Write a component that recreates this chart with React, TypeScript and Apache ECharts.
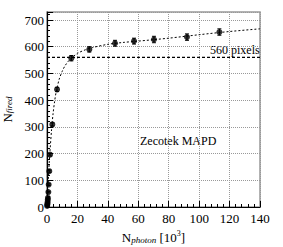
import React, { useEffect, useRef } from "react";
import * as echarts from "echarts";

const pointX = [0.1, 0.2, 0.3, 0.4, 0.5, 0.6, 0.9, 1.1, 1.5, 2.0, 3.5, 6.6, 16.0, 27.8, 44.7, 57.2, 70.3, 92.0, 113.3];
const pointY = [4, 8, 13, 19, 27, 34, 56, 84, 134, 196, 309, 440, 557, 590, 613, 621, 627, 636, 655];
const pointErr = [1, 1, 1, 2, 2, 2, 3, 3, 4, 5, 6, 8, 10, 10, 11, 11, 12, 12, 12];

const fitX = [0, 0.5, 1, 1.5, 2, 3, 4, 5, 6, 8, 10, 12, 15, 20, 25, 30, 40, 50, 60, 80, 100, 120, 140];
const fitY = [0, 62, 118, 168, 212, 290, 350, 395, 430, 478, 508, 530, 552, 575, 588, 597, 609, 616, 621, 632, 645, 657, 667];

const refLineX = [0, 140];
const refLineY = [560, 560];

const xTicks = { min: 0, max: 140, interval: 20 };
const yTicks = { min: 0, max: 730, interval: 100 };

const SERIF = "'Liberation Serif', 'DejaVu Serif', serif";

export default function App() {
  const ref = useRef<HTMLDivElement>(null);
  useEffect(() => {
    if (!ref.current) return;
    const chart = echarts.init(ref.current, undefined, { renderer: "svg" });
    const axisCommon = {
      axisLine: { show: true, onZero: false, lineStyle: { color: "#000", width: 1.2 } },
      axisTick: { show: true, inside: true, length: 6, lineStyle: { color: "#000" } },
      minorTick: { show: true, splitNumber: 5, length: 3, lineStyle: { color: "#000" } },
      splitLine: { show: true, lineStyle: { color: "#999", type: [1, 1] as any, width: 1 } },
    };
    chart.setOption({
      animation: false,
      backgroundColor: "#fff",
      grid: {
        left: 47, right: 23, top: 12, bottom: 40,
        show: true, borderColor: "#999", borderWidth: 1.5,
        containLabel: false, outerBoundsMode: "none",
      } as any,
      xAxis: {
        type: "value",
        ...xTicks,
        ...axisCommon,
        axisLabel: { color: "#000", fontFamily: SERIF, fontSize: 13, margin: 5 },
        name: "{n|N}{s|photon} {n|[10}{sup|3}{n|]}",
        nameLocation: "middle",
        nameGap: 22,
        nameTextStyle: {
          rich: {
            n: { fontFamily: SERIF, fontSize: 13, color: "#000" },
            s: { fontFamily: SERIF, fontSize: 9, fontStyle: "italic", color: "#000", verticalAlign: "bottom", padding: [6, 0, 0, 0] },
            sup: { fontFamily: SERIF, fontSize: 8, color: "#000", verticalAlign: "top", padding: [0, 0, 5, 0] },
          },
        },
      },
      yAxis: {
        type: "value",
        ...yTicks,
        ...axisCommon,
        axisLabel: {
          color: "#000",
          fontFamily: SERIF,
          fontSize: 13,
          margin: 3,
          formatter: (v: number) => (v % 100 === 0 ? String(v) : ""),
        },
        name: "{n|N}{s|fired}",
        nameLocation: "middle",
        nameGap: 32,
        nameTextStyle: {
          rich: {
            n: { fontFamily: SERIF, fontSize: 13, color: "#000" },
            s: { fontFamily: SERIF, fontSize: 9, fontStyle: "italic", color: "#000", verticalAlign: "bottom", padding: [4, 0, 0, 0] },
          },
        },
      },
      graphic: [
        { type: "text", left: 140, top: 135, style: { text: "Zecotek MAPD", font: `12px ${SERIF}`, fill: "#000" } },
        { type: "text", left: 210, top: 44, style: { text: "560 pixels", font: `12px ${SERIF}`, fill: "#000" } },
      ],
      series: [
        {
          type: "line",
          data: refLineX.map((x, i) => [x, refLineY[i]]),
          symbol: "none",
          lineStyle: { color: "#000", width: 1.2, type: [3, 2] },
          z: 3,
        },
        {
          type: "line",
          data: fitX.map((x, i) => [x, fitY[i]]),
          symbol: "none",
          smooth: 0.3,
          lineStyle: { color: "#000", width: 1, type: [2, 2] },
          z: 3,
        },
        {
          type: "custom",
          data: pointX.map((x, i) => [x, pointY[i], pointErr[i]]),
          renderItem: (params: any, api: any) => {
            const x = api.value(0), y = api.value(1), e = api.value(2);
            const t = api.coord([x, y + e]);
            const b = api.coord([x, y - e]);
            const st = { stroke: "#000", lineWidth: 1 };
            return {
              type: "group",
              children: [
                { type: "line", shape: { x1: t[0], y1: t[1], x2: b[0], y2: b[1] }, style: st },
                { type: "line", shape: { x1: t[0] - 2, y1: t[1], x2: t[0] + 2, y2: t[1] }, style: st },
                { type: "line", shape: { x1: b[0] - 2, y1: b[1], x2: b[0] + 2, y2: b[1] }, style: st },
              ],
            };
          },
          z: 4,
        },
        {
          type: "scatter",
          data: pointX.map((x, i) => [x, pointY[i]]),
          symbol: "circle",
          symbolSize: 6,
          itemStyle: { color: "#000" },
          z: 5,
        },
      ],
    });
    return () => chart.dispose();
  }, []);
  return <div ref={ref} style={{ width: 283, height: 247, position: "absolute", left: 0, top: 0 }} />;
}
